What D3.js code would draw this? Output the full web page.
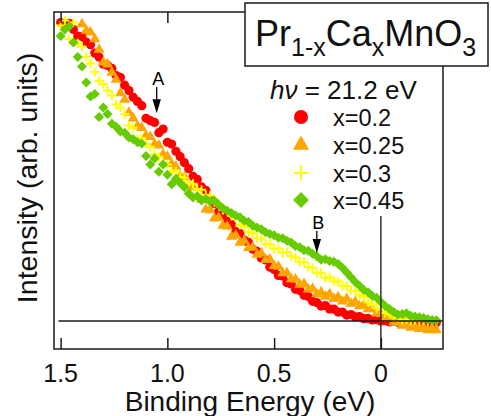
<!DOCTYPE html>
<html>
<head>
<meta charset="utf-8">
<script src="https://cdn.jsdelivr.net/npm/d3@7"></script>
<style>
  html, body { margin: 0; padding: 0; background: #fff; }
  svg { display: block; font-family: "Liberation Sans", Arial, Helvetica, sans-serif; }
</style>
</head>
<body>
<svg id="chart" width="491" height="416"></svg>
<script>
// ---------- data ----------
const energies = [
  1.50,1.48,1.46,1.44,1.42,1.40,1.38,1.36,1.34,1.32,
  1.30,1.28,1.26,1.24,1.22,1.20,1.18,1.16,1.14,1.12,
  1.10,1.08,1.06,1.04,1.02,1.00,0.98,0.96,0.94,0.92,
  0.90,0.88,0.86,0.84,0.82,0.80,0.78,0.76,0.74,0.72,
  0.70,0.68,0.66,0.64,0.62,0.60,0.58,0.56,0.54,0.52,
  0.50,0.48,0.46,0.44,0.42,0.40,0.38,0.36,0.34,0.32,
  0.30,0.28,0.26,0.24,0.22,0.20,0.18,0.16,0.14,0.12,
  0.10,0.08,0.06,0.04,0.02,0.00,-0.02,-0.04,-0.06,-0.08,
  -0.10,-0.12,-0.14,-0.16,-0.18,-0.20,-0.22,-0.24,-0.26
];
const intensityX020 = [
  0.995,0.985,0.992,0.972,0.950,0.948,0.930,0.921,0.893,0.880,
  0.856,0.852,0.842,0.818,0.812,0.786,0.768,0.746,0.732,0.718,
  0.676,0.668,0.662,0.628,0.640,0.596,0.590,0.566,0.548,0.528,
  0.508,0.482,0.472,0.447,0.436,0.404,0.392,0.364,0.352,0.332,
  0.322,0.298,0.292,0.270,0.262,0.240,0.232,0.210,0.204,0.180,
  0.172,0.152,0.150,0.128,0.124,0.106,0.102,0.086,0.082,0.066,
  0.062,0.050,0.052,0.040,0.040,0.030,0.030,0.020,0.022,0.014,
  0.015,0.008,0.009,0.004,0.005,0.000,0.002,-0.003,0.000,-0.004,
  -0.002,-0.005,-0.003,-0.006,-0.004,-0.006,-0.004,-0.007,-0.005
];
const intensityX025 = [
  null,null,null,null,null,0.990,0.968,0.962,0.940,0.905,
  0.862,0.856,0.828,0.805,0.760,0.738,0.695,0.676,0.650,0.644,
  0.618,0.614,0.590,0.586,0.556,0.548,0.524,0.515,0.484,0.480,
  0.452,0.446,0.414,0.405,0.372,0.370,0.342,0.345,0.318,0.316,
  0.282,0.286,0.262,0.268,0.244,0.246,0.222,0.226,0.204,0.206,
  0.184,0.182,0.160,0.160,0.140,0.139,0.122,0.124,0.106,0.108,
  0.090,0.096,0.082,0.090,0.074,0.080,0.066,0.074,0.058,0.064,
  0.050,0.054,0.040,0.040,0.026,0.024,0.010,0.008,-0.004,-0.005,
  -0.015,-0.012,-0.022,-0.018,-0.026,-0.022,-0.030,-0.024,-0.030
];
const intensityX030 = [
  0.985,1.002,0.940,0.995,0.926,0.915,0.880,0.858,0.830,0.800,
  0.790,0.768,0.752,0.722,0.712,0.690,0.652,0.644,0.608,0.610,
  0.590,0.580,0.556,0.548,0.526,0.522,0.500,0.498,0.480,0.478,
  0.460,0.458,0.440,0.438,0.420,0.418,0.396,0.392,0.370,0.368,
  0.350,0.344,0.320,0.314,0.296,0.293,0.276,0.274,0.256,0.256,
  0.240,0.242,0.228,0.230,0.216,0.213,0.198,0.197,0.180,0.178,
  0.160,0.160,0.144,0.146,0.132,0.133,0.118,0.117,0.101,0.100,
  0.086,0.080,0.063,0.058,0.043,0.042,0.027,0.026,0.012,0.010,
  0.004,0.006,0.001,0.004,0.000,0.003,0.000,0.002,0.000
];
const intensityX045 = [
  0.950,0.972,0.982,0.928,0.880,0.848,0.795,0.748,0.757,0.680,
  0.712,0.690,0.658,0.648,0.632,0.628,0.612,0.606,0.596,0.592,
  0.550,0.522,0.542,0.498,0.522,0.488,0.456,0.474,0.460,0.446,
  0.425,0.412,0.416,0.402,0.408,0.398,0.402,0.388,0.376,0.368,
  0.360,0.352,0.346,0.334,0.330,0.318,0.312,0.306,0.296,0.290,
  0.286,0.278,0.276,0.268,0.262,0.250,0.246,0.236,0.234,0.224,
  0.216,0.204,0.206,0.200,0.198,0.190,0.178,0.162,0.146,0.130,
  0.118,0.104,0.096,0.084,0.078,0.064,0.050,0.040,0.030,0.022,
  0.024,0.026,0.018,0.015,0.013,0.010,0.006,0.004,0.003
];
const seriesLabels = ["x=0.2", "x=0.25", "x=0.3", "x=0.45"];
const seriesColors = ["#ff0000", "#ffa500", "#ffff00", "#66cc00"];
const seriesShapes = ["circle", "triangle", "cross", "diamond"];
const xTicks = [1.5, 1.0, 0.5, 0];
const xTickLabels = ["1.5", "1.0", "0.5", "0"];
const arrowLabels = ["A", "B"];
const arrowEnergies = [1.05, 0.30];
const arrowTops = [0.78, 0.30];
const arrowTips = [0.693, 0.227];

// ---------- layout ----------
const svg = d3.select("#chart");
const pL = 54, pR = 443, pT = 12, pB = 349;
const x = d3.scaleLinear().domain([1.531, -0.291]).range([pL, pR]);
const y = d3.scaleLinear().domain([-0.093, 1.03]).range([pB, pT]);
const ink = "#1a1a1a";

function markerPath(shape, big) {
  if (shape === "triangle") return d3.symbol(d3.symbolTriangle, big ? 115 : 52)();
  if (shape === "diamond") return d3.symbol(d3.symbolSquare, big ? 125 : 50)();
  const h = big ? 7.5 : 4.5;
  return `M${-h},0L${h},0M0,${-h}L0,${h}`;
}
function drawMarker(g, shape, color, big) {
  if (shape === "circle") {
    g.append("circle").attr("r", big ? 7 : 4.6).attr("fill", color);
  } else if (shape === "cross") {
    g.append("path").attr("d", markerPath(shape, big)).attr("stroke", color)
      .attr("stroke-width", 2).attr("fill", "none");
  } else {
    const p = g.append("path").attr("d", markerPath(shape, big)).attr("fill", color);
    if (shape === "diamond") p.attr("transform", "rotate(45)");
  }
}

const allSeries = [intensityX020, intensityX025, intensityX030, intensityX045];
const plot = svg.append("g");
allSeries.forEach((vals, si) => {
  const pts = energies.map((e, i) => ({ e, v: vals[i] })).filter(d => d.v !== null);
  const g = plot.append("g");
  pts.forEach(d => {
    const m = g.append("g").attr("transform", `translate(${x(d.e)},${y(d.v)})`);
    drawMarker(m, seriesShapes[si], seriesColors[si], false);
  });
});

// baseline and Fermi level line
svg.append("line").attr("x1", x(1.51)).attr("x2", pR).attr("y1", y(0)).attr("y2", y(0))
  .attr("stroke", ink).attr("stroke-width", 1.5);
svg.append("line").attr("x1", x(0)).attr("x2", x(0)).attr("y1", y(0.35)).attr("y2", pB)
  .attr("stroke", "#333").attr("stroke-width", 1.5);

// frame
svg.append("rect").attr("x", pL).attr("y", pT).attr("width", pR - pL).attr("height", pB - pT)
  .attr("fill", "none").attr("stroke", ink).attr("stroke-width", 1.5);

// ticks (inward, bottom and top)
const xAxisB = d3.axisBottom(x).tickValues(xTicks).tickSize(-11).tickFormat("");
const gb = svg.append("g").attr("transform", `translate(0,${pB})`).call(xAxisB);
gb.select(".domain").remove();
gb.selectAll("line").attr("stroke", ink).attr("stroke-width", 1.5);
const xAxisT = d3.axisTop(x).tickValues(xTicks).tickSize(-11).tickFormat("");
const gt = svg.append("g").attr("transform", `translate(0,${pT})`).call(xAxisT);
gt.select(".domain").remove();
gt.selectAll("line").attr("stroke", ink).attr("stroke-width", 1.5);

// tick labels
svg.append("g").selectAll("text").data(xTicks).join("text")
  .attr("x", d => x(d)).attr("y", 382).attr("text-anchor", "middle")
  .attr("font-size", 25).attr("fill", "#111")
  .text((d, i) => xTickLabels[i]);

// axis titles
svg.append("text").attr("x", 250).attr("y", 411).attr("text-anchor", "middle")
  .attr("font-size", 28).attr("fill", "#111").text("Binding Energy (eV)");
svg.append("text").attr("transform", "translate(37,178) rotate(-90)").attr("text-anchor", "middle")
  .attr("font-size", 28.5).attr("fill", "#111").text("Intensity (arb. units)");

// arrows
arrowLabels.forEach((lab, i) => {
  const ax = x(arrowEnergies[i]);
  const yt = y(arrowTops[i]), yp = y(arrowTips[i]);
  svg.append("text").attr("x", ax + 1.5).attr("y", yt - 2).attr("text-anchor", "middle")
    .attr("font-size", 18).attr("fill", "#000").text(lab);
  svg.append("line").attr("x1", ax).attr("x2", ax).attr("y1", yt).attr("y2", yp - 10)
    .attr("stroke", "#000").attr("stroke-width", 1.3);
  svg.append("path").attr("d", `M${ax - 4.2},${yp - 14}L${ax + 4.2},${yp - 14}L${ax},${yp}Z`).attr("fill", "#000");
});

// title box
svg.append("rect").attr("x", 245).attr("y", 3).attr("width", 243).attr("height", 63)
  .attr("fill", "#fff").attr("stroke", ink).attr("stroke-width", 1.5);
const title = svg.append("text").attr("x", 255).attr("y", 46).attr("fill", "#111").attr("font-size", 36);
title.append("tspan").text("Pr");
title.append("tspan").attr("font-size", 25).attr("dy", 10).text("1-x");
title.append("tspan").attr("dy", -10).text("Ca");
title.append("tspan").attr("font-size", 25).attr("dy", 10).text("x");
title.append("tspan").attr("dy", -10).text("MnO");
title.append("tspan").attr("font-size", 25).attr("dy", 10).text("3");

// legend
const hv = svg.append("text").attr("x", 270).attr("y", 99).attr("font-size", 26).attr("fill", "#111");
hv.append("tspan").attr("font-style", "italic").text("hν");
hv.append("tspan").text(" = 21.2 eV");
const legRows = [117, 145, 173, 200];
seriesLabels.forEach((lab, i) => {
  const m = svg.append("g").attr("transform", `translate(301,${legRows[i]})`);
  drawMarker(m, seriesShapes[i], seriesColors[i], true);
  svg.append("text").attr("x", 333).attr("y", legRows[i] + 8.5).attr("font-size", 23.5)
    .attr("fill", "#111").text(lab);
});
</script>
</body>
</html>
